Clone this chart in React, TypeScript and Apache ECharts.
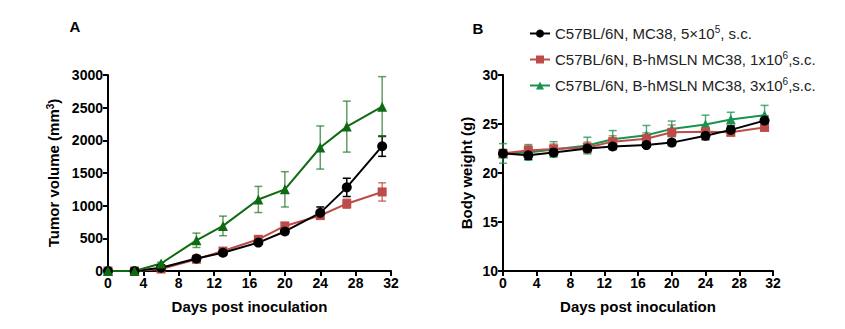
import React, { useEffect, useRef } from "react";
import * as echarts from "echarts";

const days = [0, 3, 6, 10, 13, 17, 20, 24, 27, 31];

const seriesNames = [
  "C57BL/6N, MC38, 5×10^5, s.c.",
  "C57BL/6N, B-hMSLN MC38, 1x10^6,s.c.",
  "C57BL/6N, B-hMSLN MC38, 3x10^6,s.c.",
];
const legendRich = [
  "{t|C57BL/6N, MC38, 5×10}{s|5}{t|, s.c.}",
  "{t|C57BL/6N, B-hMSLN MC38, 1x10}{s|6}{t|,s.c.}",
  "{t|C57BL/6N, B-hMSLN MC38, 3x10}{s|6}{t|,s.c.}",
];

// Panel A: tumor volume (mm3)
const tumorBlack = [0, 0, 50, 190, 280, 435, 605, 890, 1280, 1910];
const tumorBlackErr = [0, 0, 10, 30, 30, 30, 40, 90, 140, 155];
const tumorRed = [0, 0, 30, 180, 305, 485, 690, 850, 1030, 1210];
const tumorRedErr = [0, 0, 10, 30, 40, 40, 50, 60, 70, 140];
const tumorGreen = [0, 0, 115, 470, 690, 1095, 1250, 1890, 2210, 2515];
const tumorGreenErr = [0, 0, 20, 110, 150, 200, 270, 330, 390, 460];

// Panel B: body weight (g)
const bwBlack = [22.0, 21.8, 22.1, 22.5, 22.7, 22.85, 23.1, 23.8, 24.4, 25.35];
const bwBlackErr = [0.35, 0.4, 0.35, 0.35, 0.3, 0.2, 0.3, 0.4, 0.4, 0.45];
const bwRed = [22.0, 22.3, 22.45, 22.6, 23.2, 23.5, 24.15, 24.2, 24.15, 24.65];
const bwRedErr = [0.4, 0.5, 0.5, 0.55, 0.6, 0.6, 0.75, 0.55, 0.35, 0.35];
const bwGreen = [22.0, 22.1, 22.4, 22.8, 23.45, 23.85, 24.5, 24.95, 25.45, 25.9];
const bwGreenErr = [1.0, 0.8, 0.8, 0.85, 0.88, 1.0, 0.8, 0.95, 0.75, 1.0];

const FONT = "'Liberation Sans', Arial, sans-serif";
const BLACK = "#000000";
const RED = "#bd4c48";
const GREEN_A = "#0f6b12";
const GREEN_B = "#18934f";

const pairs = (vals: number[]) => days.map((d, i) => [d, vals[i]]);

const errSeries = (vals: number[], errs: number[], color: string, idx: number, opacity: number) => ({
  type: "custom",
  xAxisIndex: idx,
  yAxisIndex: idx,
  z: 1,
  silent: true,
  data: days.map((d, i) => [d, vals[i], errs[i]]),
  encode: { x: 0, y: 1 },
  renderItem: (_params: any, api: any) => {
    const x = api.value(0);
    const m = api.value(1);
    const e = api.value(2);
    const top = api.coord([x, m + e]);
    const bot = api.coord([x, m - e]);
    const cw = 4;
    const style = { stroke: color, lineWidth: 1.5, opacity };
    return {
      type: "group",
      children: [
        { type: "line", shape: { x1: top[0], y1: top[1], x2: bot[0], y2: bot[1] }, style },
        { type: "line", shape: { x1: top[0] - cw, y1: top[1], x2: top[0] + cw, y2: top[1] }, style },
        { type: "line", shape: { x1: bot[0] - cw, y1: bot[1], x2: bot[0] + cw, y2: bot[1] }, style },
      ],
    };
  },
});

const lineSeries = (name: string, vals: number[], color: string, symbol: string, size: number, idx: number) => ({
  type: "line",
  name,
  xAxisIndex: idx,
  yAxisIndex: idx,
  z: 3,
  data: pairs(vals),
  symbol,
  symbolSize: size,
  showSymbol: true,
  lineStyle: { color, width: 2 },
  itemStyle: { color, borderWidth: 0 },
  emphasis: { disabled: true },
});

const axisCommon = {
  axisLine: { show: true, lineStyle: { color: "#000", width: 2 } },
  axisTick: { show: true, inside: false, length: 5, lineStyle: { color: "#000", width: 2 } },
  splitLine: { show: false },
  axisLabel: {
    color: "#000",
    fontWeight: "bold",
    fontSize: 14,
    fontFamily: FONT,
    margin: 5,
    formatter: (v: number) => String(v),
  },
  nameTextStyle: { color: "#000", fontWeight: "bold", fontSize: 15, fontFamily: FONT },
  nameLocation: "middle",
};

export default function App() {
  const ref = useRef<HTMLDivElement>(null);
  useEffect(() => {
    if (!ref.current) return;
    const chart = echarts.init(ref.current, undefined, { renderer: "svg" });
    chart.setOption({
      animation: false,
      backgroundColor: "#ffffff",
      textStyle: { fontFamily: FONT },
      grid: [
        { left: 108, top: 75, width: 283, height: 196 },
        { left: 503, top: 75, width: 270, height: 196 },
      ],
      xAxis: [0, 1].map((i) => ({
        ...axisCommon,
        type: "value",
        gridIndex: i,
        min: 0,
        max: 32,
        interval: 4,
        name: "Days post inoculation",
        nameGap: 28,
      })),
      yAxis: [
        {
          ...axisCommon,
          type: "value",
          gridIndex: 0,
          min: 0,
          max: 3000,
          interval: 500,
          name: "{a|Tumor volume (mm}{s|3}{a|)}",
          nameGap: 46,
          nameTextStyle: {
            ...axisCommon.nameTextStyle,
            rich: {
              a: { fontWeight: "bold", fontSize: 15, fontFamily: FONT, color: "#000", lineHeight: 17 },
              s: { fontWeight: "bold", fontSize: 10, fontFamily: FONT, color: "#000", verticalAlign: "top", lineHeight: 10 },
            },
          },
        },
        {
          ...axisCommon,
          type: "value",
          gridIndex: 1,
          min: 10,
          max: 30,
          interval: 5,
          name: "Body weight (g)",
          nameGap: 29,
        },
      ],
      legend: {
        orient: "vertical",
        left: 524,
        top: 19,
        itemWidth: 20,
        itemHeight: 10,
        itemGap: 9,
        selectedMode: false,
        data: seriesNames.map((n) => ({ name: n })),
        formatter: (name: string) => legendRich[seriesNames.indexOf(name)],
        textStyle: {
          fontFamily: FONT,
          fontSize: 15,
          color: "#222",
          rich: {
            t: { fontFamily: FONT, fontSize: 15, color: "#222", lineHeight: 19 },
            s: { fontFamily: FONT, fontSize: 10, color: "#222", verticalAlign: "top", lineHeight: 10 },
          },
        },
      },
      graphic: [
        { type: "text", x: 75, y: 26, style: { text: "A", font: `bold 15px ${FONT}`, fill: "#000", align: "center", verticalAlign: "middle" } },
        { type: "text", x: 478, y: 28, style: { text: "B", font: `bold 15px ${FONT}`, fill: "#000", align: "center", verticalAlign: "middle" } },
      ],
      series: [
        errSeries(tumorBlack, tumorBlackErr, BLACK, 0, 1),
        errSeries(tumorRed, tumorRedErr, RED, 0, 0.75),
        errSeries(tumorGreen, tumorGreenErr, GREEN_A, 0, 0.65),
        lineSeries("A-red", tumorRed, RED, "rect", 9, 0),
        lineSeries("A-black", tumorBlack, BLACK, "circle", 10, 0),
        lineSeries("A-green", tumorGreen, GREEN_A, "triangle", 10, 0),
        errSeries(bwGreen, bwGreenErr, GREEN_B, 1, 0.75),
        errSeries(bwRed, bwRedErr, RED, 1, 0.7),
        errSeries(bwBlack, bwBlackErr, BLACK, 1, 1),
        lineSeries(seriesNames[2], bwGreen, GREEN_B, "triangle", 10, 1),
        lineSeries(seriesNames[1], bwRed, RED, "rect", 9, 1),
        lineSeries(seriesNames[0], bwBlack, BLACK, "circle", 10, 1),
      ],
    });
    return () => chart.dispose();
  }, []);
  return (
    <div
      ref={ref}
      style={{ position: "fixed", left: 0, top: 0, width: 845, height: 329, background: "#fff" }}
    />
  );
}
